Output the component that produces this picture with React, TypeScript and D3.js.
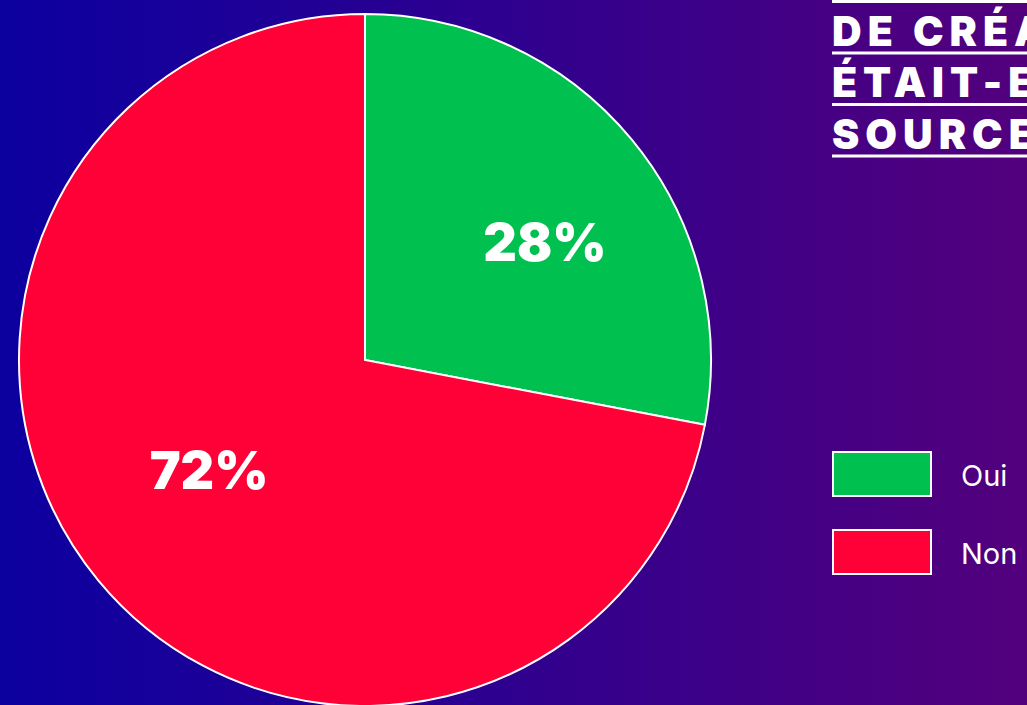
import React from "react";
import * as d3 from "d3";

const categories = ["Oui", "Non"];
const values = [28, 72];
const labels = ["28%", "72%"];
const colors = ["#00c050", "#ff0037"];
const titleLines = ["DE CRÉATION", "ÉTAIT-ELLE OPEN", "SOURCE ?"];

const W = 1027;
const H = 705;

export default function App() {
  const cx = 365;
  const cy = 360;
  const r = 346;
  const pie = d3.pie<number>().sort(null).value((d) => d);
  const arcs = pie(values);
  const arcGen = d3.arc<d3.PieArcDatum<number>>().innerRadius(0).outerRadius(r);
  const labelArc = d3.arc<d3.PieArcDatum<number>>().innerRadius(r * 0.6).outerRadius(r * 0.6);

  const legendY = d3.scaleBand<string>().domain(categories).range([452, 608]).paddingInner(0);

  return (
    <svg
      width={W}
      height={H}
      style={{ position: "fixed", left: 0, top: 0, display: "block" }}
    >
      <defs>
        <linearGradient id="bg" x1="0" y1="0" x2="1" y2="0">
          <stop offset="0%" stopColor="#0c00a0" />
          <stop offset="100%" stopColor="#53007d" />
        </linearGradient>
      </defs>
      <rect x={0} y={0} width={W} height={H} fill="url(#bg)" />
      <g transform={`translate(${cx},${cy})`}>
        {arcs.map((a, i) => (
          <path key={i} d={arcGen(a) || ""} fill={colors[i]} stroke="#fff" strokeWidth={2} />
        ))}
        {arcs.map((a, i) => {
          const [x, y] = labelArc.centroid(a);
          const dx = i === 0 ? 20 : 4;
          const dy = i === 0 ? 15 : -22;
          return (
            <text
              key={i}
              x={x + dx}
              y={y + dy}
              textAnchor="middle"
              dominantBaseline="central"
              fill="#fff"
              fontFamily="Inter, sans-serif"
              fontWeight={900}
              fontSize={52}
              letterSpacing={0}
            >
              {labels[i]}
            </text>
          );
        })}
      </g>
      <g>
        <rect x={832} y={0} width={W - 832} height={3} fill="#fff" />
        {titleLines.map((t, i) => (
          <g key={i}>
            <text
              x={832}
              y={45.5 + i * 51.5}
              fill="#fff"
              fontFamily="Inter, sans-serif"
              fontWeight={900}
              fontSize={41}
              letterSpacing={6}
            >
              {t}
            </text>
            <rect x={832} y={51.5 + i * 51.5} width={W - 832} height={3} fill="#fff" />
          </g>
        ))}
      </g>
      <g>
        {categories.map((c, i) => {
          const y = legendY(c) || 0;
          return (
            <g key={c}>
              <rect x={833} y={y} width={98} height={44} fill={colors[i]} stroke="#fff" strokeWidth={2} />
              <text
                x={961}
                y={y + 23}
                dominantBaseline="central"
                fill="#fff"
                fontFamily="Inter, sans-serif"
                fontSize={29}
              >
                {c}
              </text>
            </g>
          );
        })}
      </g>
    </svg>
  );
}
